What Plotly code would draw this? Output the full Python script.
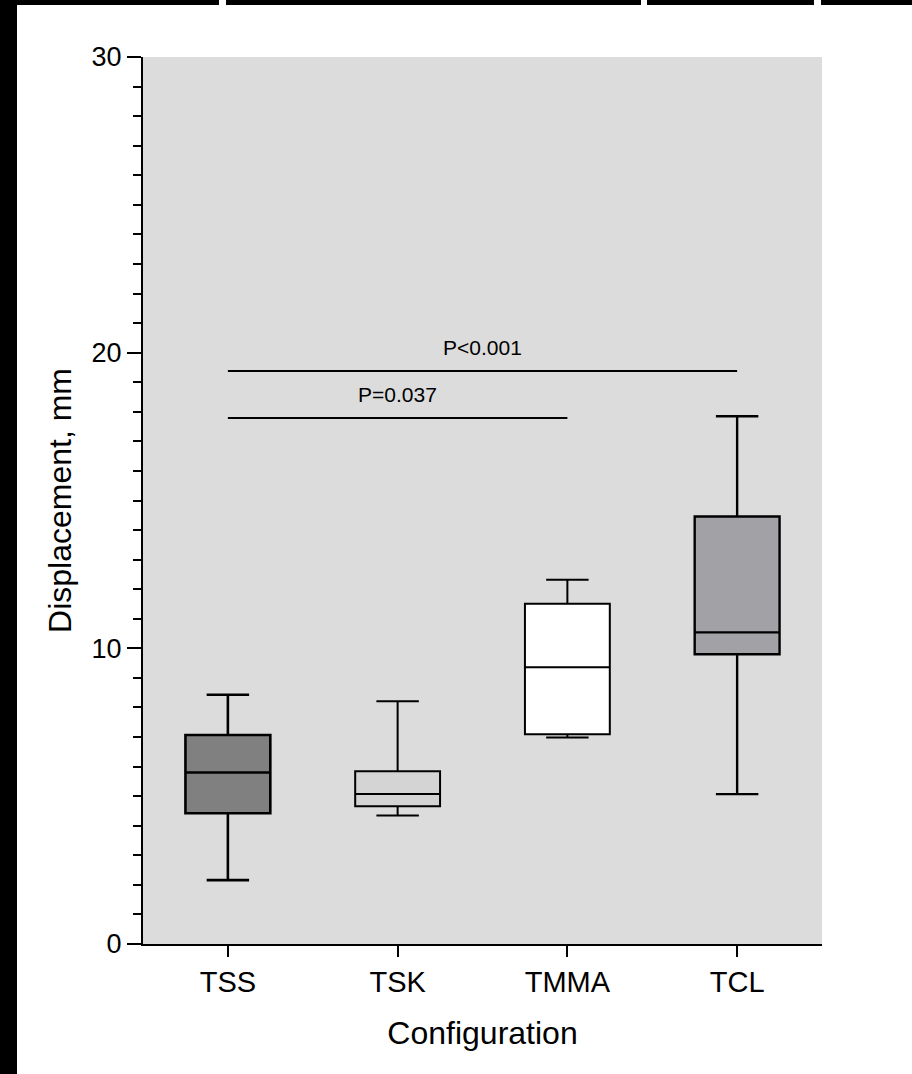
import plotly.graph_objects as go

# ---- data ----
categories = ["TSS", "TSK", "TMMA", "TCL"]
lower_whisker = [2.16, 4.35, 6.98, 5.07]
q1_values = [4.42, 4.66, 7.09, 9.80]
median_values = [5.80, 5.07, 9.36, 10.54]
q3_values = [7.07, 5.84, 11.51, 14.46]
upper_whisker = [8.43, 8.21, 12.32, 17.85]
fill_colors = ["#808080", "#d4d4d4", "#ffffff", "#a2a1a6"]
edge_widths = [2.6, 2.0, 2.0, 2.4]

sig_from = ["TSS", "TSS"]
sig_to = ["TCL", "TMMA"]
sig_level = [19.38, 17.79]
sig_text_level = [20.16, 18.58]
sig_labels = ["P<0.001", "P=0.037"]

y_ticks = [0, 10, 20, 30]

FONT = "Arial, 'Liberation Sans', Helvetica, sans-serif"

fig = go.Figure()

for i, cat in enumerate(categories):
    fig.add_trace(go.Box(
        x=[cat],
        q1=[q1_values[i]],
        median=[median_values[i]],
        q3=[q3_values[i]],
        lowerfence=[lower_whisker[i]],
        upperfence=[upper_whisker[i]],
        fillcolor=fill_colors[i],
        line=dict(color="black", width=edge_widths[i]),
        width=0.5,
        whiskerwidth=0.5,
        boxpoints=False,
        showlegend=False,
        hoverinfo="skip",
    ))

for a, b, lvl, txt_lvl, lab in zip(sig_from, sig_to, sig_level, sig_text_level, sig_labels):
    fig.add_trace(go.Scatter(
        x=[a, b], y=[lvl, lvl], mode="lines",
        line=dict(color="black", width=2),
        showlegend=False, hoverinfo="skip",
    ))
    mid = (categories.index(a) + categories.index(b)) / 2
    fig.add_annotation(
        x=mid, y=txt_lvl, xref="x", yref="y", text=lab, showarrow=False,
        font=dict(family=FONT, size=21, color="black"),
    )

# plot area in pixels
L, R, T, B = 143, 822, 57, 944
W, H = 912, 1074

def px(x):
    return (x - L) / (R - L)

def py(y):
    return (B - y) / (B - T)

TOP = 5
shapes = [
    # black frame strips (cropped-image border)
    dict(type="rect", xref="paper", yref="paper", x0=px(0), x1=px(W), y0=py(TOP), y1=py(0),
         fillcolor="black", line=dict(width=0), layer="above"),
    dict(type="rect", xref="paper", yref="paper", x0=px(0), x1=px(17), y0=py(H), y1=py(0),
         fillcolor="black", line=dict(width=0), layer="above"),
    dict(type="rect", xref="paper", yref="paper", x0=px(219), x1=px(226), y0=py(TOP), y1=py(0),
         fillcolor="white", line=dict(width=0), layer="above"),
    dict(type="rect", xref="paper", yref="paper", x0=px(641), x1=px(647), y0=py(TOP), y1=py(0),
         fillcolor="white", line=dict(width=0), layer="above"),
    dict(type="rect", xref="paper", yref="paper", x0=px(814), x1=px(821), y0=py(TOP), y1=py(0),
         fillcolor="white", line=dict(width=0), layer="above"),
]

fig.update_layout(
    width=W, height=H,
    margin=dict(l=L, r=W - R, t=T, b=H - B, pad=0),
    paper_bgcolor="white",
    plot_bgcolor="#dcdcdc",
    font=dict(family=FONT, color="black"),
    shapes=shapes,
    xaxis=dict(
        type="category",
        categoryorder="array", categoryarray=categories,
        range=[-0.5, 3.5],
        showline=True, linecolor="black", linewidth=2,
        ticks="outside", ticklen=11, tickwidth=2, tickcolor="black",
        tickfont=dict(family=FONT, size=29, color="black"),
        showgrid=False, zeroline=False,
        title=dict(text="Configuration", font=dict(family=FONT, size=32, color="black"), standoff=25),
    ),
    yaxis=dict(
        range=[0, 30],
        tickmode="array", tickvals=y_ticks, ticktext=[str(v) for v in y_ticks],
        showline=True, linecolor="black", linewidth=2,
        ticks="outside", ticklen=14, tickwidth=2, tickcolor="black",
        tickfont=dict(family=FONT, size=27, color="black"),
        minor=dict(dtick=1, tick0=0, ticks="outside", ticklen=8, tickwidth=2, tickcolor="black", showgrid=False),
        showgrid=False, zeroline=False,
        title=dict(text="Displacement, mm", font=dict(family=FONT, size=32, color="black"), standoff=10),
    ),
)

fig.write_html(
    "out.html",
    config={"displayModeBar": False, "staticPlot": True},
    post_script="document.body.style.margin='0';document.body.style.padding='0';document.body.style.overflow='hidden';",
)
